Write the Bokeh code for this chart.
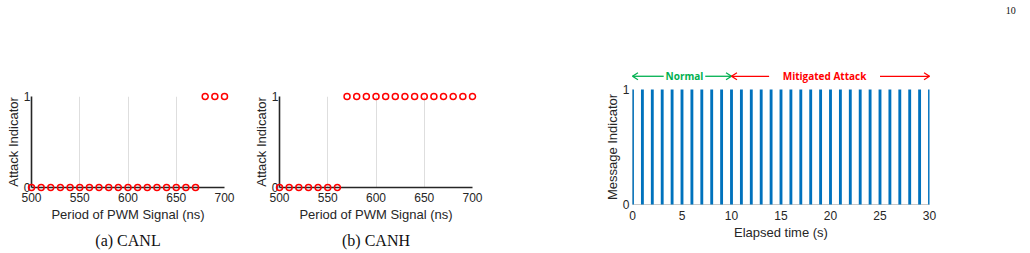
from bokeh.plotting import figure
from bokeh.layouts import row, column
from bokeh.models import Range1d, FixedTicker
from bokeh.core.properties import value
from bokeh.embed import file_html
from bokeh.resources import INLINE

# ---------------- data ----------------
period_ns = [500, 510, 520, 530, 540, 550, 560, 570, 580, 590, 600, 610, 620, 630,
             640, 650, 660, 670, 680, 690, 700]
canl_attack = [0, 0, 0, 0, 0, 0, 0, 0, 0, 0, 0, 0, 0, 0, 0, 0, 0, 0, 1, 1, 1]
canh_attack = [0, 0, 0, 0, 0, 0, 0, 1, 1, 1, 1, 1, 1, 1, 1, 1, 1, 1, 1, 1, 1]
period_ticks = [500, 550, 600, 650, 700]
indicator_ticks = [0, 1]

elapsed_s = list(range(0, 31))
message_ind = [1] * 31
time_ticks = [0, 5, 10, 15, 20, 25, 30]

captions = ["(a) CANL", "(b) CANH"]
phase_names = ["Normal", "Mitigated Attack"]
phase_spans = [(0, 10), (10, 30)]
page_number = "10"

FONT = "Liberation Sans"
AX = "#262626"
GRID = "#dedede"


def style_axes(p, xticks, yticks, axcolor=AX, axwidth=1.6):
    for ax in (p.xaxis[0], p.yaxis[0]):
        ax.axis_line_color = axcolor
        ax.axis_line_width = axwidth
        ax.major_tick_in = 0
        ax.major_tick_out = 0
        ax.minor_tick_line_color = None
        ax.major_label_text_font = FONT
        ax.major_label_text_font_size = "12px"
        ax.major_label_text_color = AX
        ax.axis_label_text_font = FONT
        ax.axis_label_text_font_size = "13px"
        ax.axis_label_text_font_style = "normal"
        ax.axis_label_text_color = AX
    p.xaxis.ticker = FixedTicker(ticks=xticks)
    p.yaxis.ticker = FixedTicker(ticks=yticks)
    p.xaxis.major_label_standoff = 5
    p.xaxis.axis_label_standoff = 2
    p.yaxis.major_label_standoff = 1
    p.yaxis.axis_label_standoff = 0


def pwm_panel(values, caption, left, right):
    p = figure(width=left + 193 + right, height=253, output_backend="svg",
               toolbar_location=None, x_range=Range1d(500, 700),
               y_range=Range1d(0, 1), min_border_left=left, min_border_right=right,
               min_border_top=96, min_border_bottom=66,
               frame_width=193, frame_height=91)
    p.outline_line_color = None
    style_axes(p, period_ticks, indicator_ticks)
    p.xaxis.axis_label = "Period of PWM Signal (ns)"
    p.yaxis.axis_label = "Attack Indicator"
    p.xgrid.grid_line_color = GRID
    p.ygrid.grid_line_color = GRID
    p.xgrid.ticker = FixedTicker(ticks=period_ticks)
    p.ygrid.ticker = FixedTicker(ticks=indicator_ticks)
    p.scatter(period_ns, values, marker="circle", size=6, fill_color=None,
              line_color="#ff0000", line_width=1.5, level="overlay")
    # sub-figure caption below the axis title
    p.text(x=[600], y=[-0.585], text=[caption], text_align="center",
           text_baseline="middle", text_font=value("Liberation Serif"),
           text_font_size="16px", text_color="#111111", level="overlay")
    return p


p1 = pwm_panel(canl_attack, captions[0], 31, 26)
p2 = pwm_panel(canh_attack, captions[1], 28, 29)

p3 = figure(width=530, height=253, output_backend="svg", toolbar_location=None,
            x_range=Range1d(0, 30), y_range=Range1d(0, 1),
            min_border_left=131, min_border_right=102, min_border_top=89,
            min_border_bottom=49, frame_width=297, frame_height=115)
p3.outline_line_color = None
style_axes(p3, time_ticks, indicator_ticks, axcolor="#c8c8c8", axwidth=1)
p3.xaxis.major_label_standoff = 6
p3.xaxis.axis_label_standoff = 2
p3.yaxis.major_label_standoff = 3
p3.xaxis.axis_label = "Elapsed time (s)"
p3.yaxis.axis_label = "Message Indicator"
p3.xgrid.grid_line_color = None
p3.ygrid.grid_line_color = "#eeeeee"
p3.ygrid.ticker = FixedTicker(ticks=[1])
p3.vbar(x=elapsed_s, top=message_ind, bottom=0, width=0.29,
        fill_color="#0072bd", line_color=None, level="overlay")

# phase annotations above the plot (arrows drawn as line glyphs)
colors = ["#00b050", "#ff0000"]
gaps = [2.1, 5.6]
shifts = [0.25, -0.6]
y_ann = 1.115
hx, hy = 0.55, 0.03
for (a, b), name, col, gap, sh in zip(phase_spans, phase_names, colors, gaps, shifts):
    c = (a + b) / 2 + sh
    x0s = [c - gap, c + gap, a, a, b, b]
    x1s = [a, b, a + hx, a + hx, b - hx, b - hx]
    y0s = [y_ann] * 6
    y1s = [y_ann, y_ann, y_ann + hy, y_ann - hy, y_ann + hy, y_ann - hy]
    p3.segment(x0=x0s, y0=y0s, x1=x1s, y1=y1s, line_color=col, line_width=1.3,
               level="overlay")
    p3.text(x=[c], y=[y_ann], text=[name], text_align="center",
            text_baseline="middle", text_font=value("Open Sans"),
            text_font_style="bold", text_font_size="10px", text_color=col,
            level="overlay")

# page number in the top-right corner
p3.text(x=[38.2], y=[1.69], text=[page_number], text_align="center",
        text_baseline="middle", text_font=value("Liberation Serif"),
        text_font_size="10px", text_color="#111111", level="overlay")

layout = row(row(p1, p2), column(p3))
open("out.html", "w").write(file_html(layout, INLINE))
